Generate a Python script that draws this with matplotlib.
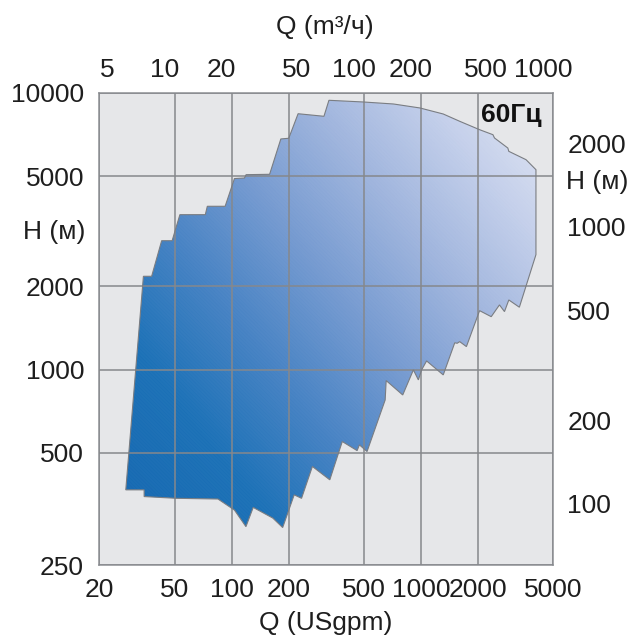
import numpy as np
import matplotlib
matplotlib.use("Agg")
import matplotlib.pyplot as plt
from matplotlib.colors import LinearSegmentedColormap
from matplotlib.patches import Polygon

plt.rcParams['font.family'] = ['Liberation Sans', 'DejaVu Sans']

# ******************
# Data
# ******************
# outline of the 60 Hz working range, clockwise from the bottom-left corner
q_gpm = [27.6, 34.2, 37.8, 42.7, 48.5, 53.3, 72.6, 74.4, 92.4, 103.5,
         116.9, 119.2, 158.7, 181.9, 200.3, 224.4, 307.3, 326.5, 498, 716,
         988, 1311, 1602, 2040, 2399, 2446, 2876, 2911, 3588, 4049,
         4049, 3309, 2911, 2761, 2598, 2350, 2040, 1738, 1602, 1553,
         1508, 1311, 1071, 1008, 969, 912, 801, 655, 647, 519,
         473, 460, 384, 330, 267, 234, 214, 186, 165, 130,
         119, 103.5, 84.7, 51.1, 34.5, 34.5]
h_ft = [368, 2173, 2173, 2921, 2921, 3627, 3627, 3889, 3889, 4897,
        4920, 5058, 5074, 6807, 6846, 8396, 8219, 9388, 9256, 9104,
        8807, 8377, 7884, 7352, 7053, 6863, 6312, 6141, 5730, 5272,
        2602, 1680, 1785, 1620, 1713, 1553, 1633, 1211, 1262, 1245,
        1250, 957, 1075, 998, 918, 998, 810, 913, 777, 506,
        535, 510, 550, 400, 447, 343, 353, 269, 291, 318,
        271, 311, 341, 343, 348, 368]

bottom_ticks = [20, 50, 100, 200, 500, 1000, 2000, 5000]
top_ticks = [5, 10, 20, 50, 100, 200, 500, 1000]
left_ticks = [197, 500, 1000, 2000, 5000, 10000]
left_labels = ["250", "500", "1000", "2000", "5000", "10000"]
right_ticks = [100, 200, 500, 1000, 2000]

GPM_PER_M3H = 4.403
FT_PER_M = 3.281
FS = 19
TXT = "#1e1e1e"

# ******************
# Figure
# ******************
fig = plt.figure(figsize=(6.31, 6.35), dpi=100)
ax = fig.add_axes([99.3 / 631, 1 - 565 / 635, 454 / 631, 472.3 / 635])
ax.set_xscale("log")
ax.set_yscale("log")
ax.set_facecolor("#e6e7e9")

# gradient clipped to the outline
cmap = LinearSegmentedColormap.from_list("blues", [
    (0.0, "#0058a8"), (0.25, "#0865b1"), (0.4, "#3778bf"), (0.55, "#6a92cd"),
    (0.7, "#98afdb"), (0.85, "#c1cdea"), (1.0, "#e5e9f5")])
n = 300
gx, gy = np.meshgrid(np.linspace(0, 1, n), np.linspace(0, 1, n))
grad = (gx * 0.55 + gy * 0.45)
img = ax.imshow(grad, cmap=cmap, origin="lower", extent=[0, 1, 0, 1],
                transform=ax.transAxes, aspect="auto", zorder=1)
poly = Polygon(np.column_stack([q_gpm, h_ft]), closed=True, facecolor="none",
               edgecolor="none", transform=ax.transData)
ax.add_patch(poly)
img.set_clip_path(poly)

# fine diagonal texture
plt.rcParams['hatch.linewidth'] = 0.5
tex = Polygon(np.column_stack([q_gpm, h_ft]), closed=True, facecolor="none",
              edgecolor=(1, 1, 1, 0.13), hatch="\\" * 24, linewidth=0, zorder=2)
ax.add_patch(tex)

ax.add_patch(Polygon(np.column_stack([q_gpm, h_ft]), closed=True, facecolor="none",
                     edgecolor="#7a7d82", linewidth=0.8, zorder=4))

ax.set_xlim(20.7, 5000)
ax.set_ylim(197, 10000)

ax.set_xticks(bottom_ticks, labels=[str(t) for t in bottom_ticks])
ax.set_yticks(left_ticks, labels=left_labels)
ax.minorticks_off()
ax.tick_params(length=0, labelsize=FS, colors=TXT)
ax.tick_params(axis="x", pad=9.5)
ax.tick_params(axis="y", pad=11)
ax.grid(True, color="#86888c", linewidth=1.1, zorder=3)
ax.set_axisbelow(False)
for s in ax.spines.values():
    s.set_color("#8d8f93")
    s.set_linewidth(1.1)

top = ax.secondary_xaxis("top", functions=(lambda q: q / GPM_PER_M3H,
                                           lambda q: q * GPM_PER_M3H))
top.set_xticks(top_ticks, labels=[str(t) for t in top_ticks])
top.minorticks_off()
top.tick_params(length=0, labelsize=FS, pad=7.5, colors=TXT)
top.spines["top"].set_visible(False)

right = ax.secondary_yaxis("right", functions=(lambda h: h / FT_PER_M,
                                               lambda h: h * FT_PER_M))
right.set_yticks(right_ticks, labels=[str(t) for t in right_ticks])
right.minorticks_off()
right.tick_params(length=0, labelsize=FS, pad=10, colors=TXT)
right.spines["right"].set_visible(False)

fig.text(326 / 631, 1 - 623 / 635, "Q (USgpm)", fontsize=FS, ha="center", va="center", color=TXT)
fig.text(325 / 631, 1 - 27 / 635, "Q (m³/ч)", fontsize=FS, ha="center", va="center", color=TXT)
fig.text(85 / 631, 1 - 232 / 635, "H (м)", fontsize=FS, ha="right", va="center", color=TXT)
fig.text(566 / 631, 1 - 182 / 635, "H (м)", fontsize=FS, ha="left", va="center", color=TXT)
ax.text(0.975, 0.978, "60Гц", transform=ax.transAxes, fontsize=FS, fontweight="bold",
        ha="right", va="top", color="#111111", zorder=5)

fig.savefig("out.png", dpi=100)
